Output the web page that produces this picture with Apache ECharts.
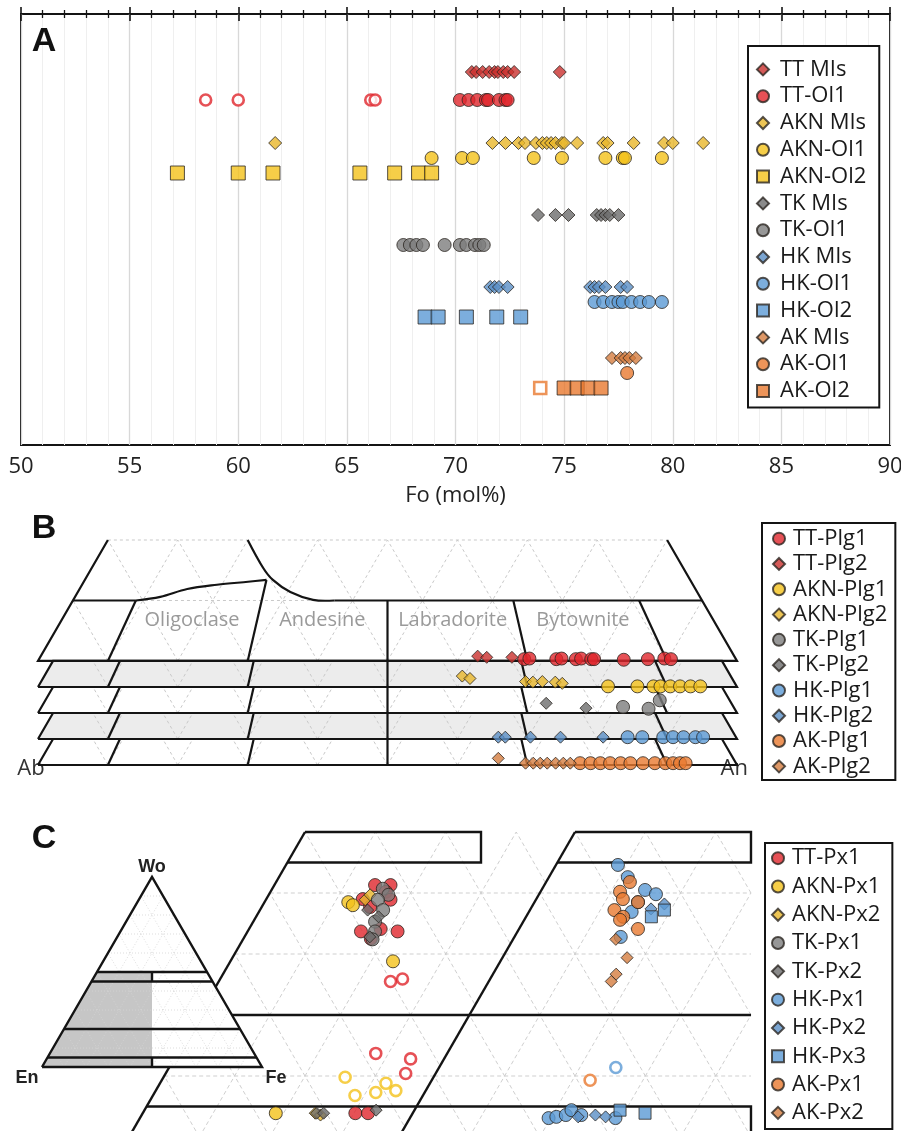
<!DOCTYPE html>
<html>
<head>
<meta charset="utf-8">
<script src="https://cdn.jsdelivr.net/npm/echarts@6/dist/echarts.min.js"></script>
<style>
  html, body { margin: 0; padding: 0; background: #fff; }
  #chart { width: 901px; height: 1131px; }
</style>
</head>
<body>
<div id="chart"></div>
<script>
// ================= Panel A: olivine forsterite content (Fo mol%) =================
const ttMIs    = [70.75, 70.95, 71.25, 71.55, 71.8, 71.95, 72.2, 72.4, 72.7, 74.8];
const ttOl1    = [70.2, 70.6, 71.0, 71.4, 71.5, 72.0, 72.3, 72.4];
const ttOl1Rim = [58.5, 60.0, 66.1, 66.3];
const aknMIs   = [61.7, 71.7, 72.3, 72.9, 73.2, 73.7, 74.0, 74.2, 74.4, 74.6, 74.9, 75.0, 75.6, 76.8, 77.0, 78.2, 79.6, 80.0, 81.4];
const aknOl1   = [68.9, 70.3, 70.8, 73.6, 74.9, 76.9, 77.7, 77.8, 79.5];
const aknOl2   = [57.2, 60.0, 61.6, 65.6, 67.2, 68.3, 68.9];
const tkMIs    = [73.8, 74.6, 75.2, 76.5, 76.7, 76.9, 77.1, 77.5];
const tkOl1    = [67.6, 67.9, 68.2, 68.5, 69.5, 70.2, 70.5, 70.9, 71.1, 71.3];
const hkMIs    = [71.6, 71.8, 72.0, 72.4, 76.2, 76.4, 76.6, 76.9, 77.6, 77.9];
const hkOl1    = [76.4, 76.8, 77.2, 77.5, 77.7, 78.1, 78.5, 78.9, 79.5];
const hkOl2    = [68.6, 69.2, 70.5, 71.9, 73.0];
const akMIs    = [77.2, 77.6, 77.8, 78.0, 78.3];
const akOl1    = [77.9];
const akOl2    = [75.0, 75.6, 76.1, 76.7];
const akOl2Rim = [73.9];

// ================= Panel B: plagioclase [An %, Or %] =================
const ttPlg1  = [[69.4,0.3],[70.1,0.4],[74.0,0.3],[74.7,0.4],[76.8,0.3],[77.5,0.4],[79.0,0.3],[79.4,0.3],[83.7,0.2],[87.1,0.3],[89.4,0.4],[90.4,0.3]];
const ttPlg2  = [[62.5,0.8],[63.9,0.6],[67.5,0.6]];
const aknPlg1 = [[81.5,0.1],[85.7,0.1],[88.0,0.1],[89.0,0.1],[90.4,0.1],[91.8,0.1],[93.3,0.1],[94.7,0.1]];
const aknPlg2 = [[59.8,1.8],[61.1,1.4],[69.3,0.9],[70.4,0.8],[71.7,0.9],[73.6,0.8],[74.7,0.6]];
const tkPlg1  = [[83.2,1.0],[87.0,0.7],[87.9,2.1]];
const tkPlg2  = [[71.9,1.6],[78.0,0.8]];
const hkPlg1  = [[84.2,0.3],[86.3,0.3],[89.3,0.3],[90.7,0.3],[92.2,0.3],[93.9,0.3],[95.0,0.3]];
const hkPlg2  = [[65.7,0.3],[66.7,0.3],[70.3,0.3],[74.6,0.3],[80.7,0.3]];
const akPlg1  = [[77.4,0.3],[78.9,0.3],[80.3,0.3],[81.7,0.3],[83.2,0.3],[84.6,0.3],[86.4,0.3],[88.1,0.3],[89.6,0.3],[90.7,0.3],[91.7,0.3],[92.5,0.3]];
const akPlg2  = [[65.3,1.1],[69.6,0.3],[70.7,0.3],[71.7,0.3],[72.7,0.3],[73.9,0.3],[75.0,0.3],[76.0,0.3]];

// ================= Panel C: pyroxene [Wo %, Fs %] =================
const ttPx1     = [[41.3,14.3],[41.3,16.5],[40.2,16.4],[39.0,13.7],[38.9,17.7],[37.7,15.4],[33.7,16.1],[34.1,18.7],[33.7,21.3],[32.5,18.1],[3.9,30.2],[3.9,32.0]];
const ttPx1Rim  = [[25.5,24.4],[25.9,25.9],[13.7,28.2],[12.8,33.6],[10.4,34.1]];
const aknPx1    = [[38.5,11.9],[38.0,12.8],[28.8,23.1],[3.9,18.9]];
const aknPx1Rim = [[9.8,25.8],[6.8,28.7],[7.3,31.4],[8.8,32.1],[7.6,34.1]];
const aknPx2    = [[38.9,14.1],[39.7,14.4],[3.9,24.5],[3.6,25.4]];
const tkPx1     = [[40.7,15.7],[39.7,17.0],[38.9,15.9],[37.2,17.5],[35.3,17.3],[33.7,18.1],[32.4,18.4]];
const tkPx2     = [[37.2,15.3],[36.1,17.4],[32.8,17.8],[3.9,24.7],[3.9,25.7],[4.4,32.9]];
const hkPx1     = [[44.6,8.8],[42.6,11.2],[40.5,14.7],[39.8,16.6],[38.5,14.7],[36.9,14.6],[32.8,15.1],[3.1,19.7],[3.3,20.7],[3.6,21.9],[4.4,22.3],[3.6,24.1],[3.1,29.2]];
const hkPx1Rim  = [[11.4,25.1]];
const hkPx2     = [[37.4,17.1],[38.2,18.6],[3.3,23.8],[3.6,26.1],[3.3,27.7]];
const hkPx3     = [[37.2,19.1],[36.1,17.8],[4.4,29.2],[3.9,33.0]];
const akPx1     = [[41.8,11.9],[40.2,11.3],[39.0,12.3],[38.5,14.7],[37.2,12.0],[36.1,13.8],[35.6,13.6],[34.1,16.9]];
const akPx1Rim  = [[9.3,22.5]];
const akPx2     = [[32.4,14.6],[29.4,17.7],[26.7,17.5],[25.5,17.4]];

// ---- classification boundaries (An ratio / Wo levels) and field names ----
const plagFieldRatios = [0.1, 0.3, 0.5, 0.7, 0.9];
const plagFieldNames  = ['Oligoclase', 'Andesine', 'Labradorite', 'Bytownite'];
const plagNameRatios  = [0.2, 0.4, 0.6, 0.8];
const solvusLow  = [[9.0,10],[12.2,10.6],[15.4,11.9],[19.3,12.6],[23.5,13.1],[26.0,13.4]];
const solvusHigh = [[20.0,20],[24.4,15.5],[26.9,13.4],[30.4,11.4],[34.3,10.1],[37.4,10]];
const pxWoLevels = [50, 45, 20, 5];

// ---- layout constants ----
const rowLevels = [58, 86, 129, 144, 159, 201, 231, 273, 288, 303, 344, 359, 374];
const STRIP = 4.3;          // height of each plagioclase band (Or %)
const COPY_SHIFT = 38.35;   // horizontal shift of the second pyroxene panel

const SANS   = "'Open Sans', 'Noto Sans', 'DejaVu Sans', sans-serif";
const NARROW = "'Liberation Sans Narrow', 'Open Sans', sans-serif";
const ARIAL  = "'Liberation Sans', Arial, sans-serif";
const INK = '#141414', EDGE = '#2a2520', GRIDC = '#c9c9c9', SHADE = '#ececec';
const C = {
  red: '#e0262c', redDk: '#c9312e',
  yel: '#f4c21a', yelDk: '#e9b72a',
  gry: '#7d7d7d', gryDk: '#6d6d6d',
  blu: '#5b9ad5', bluDk: '#5a8fc6',
  org: '#e9792f', orgDk: '#d57d40'
};

const olivineSets = [
  ['TT MIs', ttMIs, [], 'diamond', C.redDk],
  ['TT-Ol1', ttOl1, ttOl1Rim, 'circle', C.red],
  ['AKN MIs', aknMIs, [], 'diamond', C.yelDk],
  ['AKN-Ol1', aknOl1, [], 'circle', C.yel],
  ['AKN-Ol2', aknOl2, [], 'rect', C.yel],
  ['TK MIs', tkMIs, [], 'diamond', C.gryDk],
  ['TK-Ol1', tkOl1, [], 'circle', C.gry],
  ['HK MIs', hkMIs, [], 'diamond', C.bluDk],
  ['HK-Ol1', hkOl1, [], 'circle', C.blu],
  ['HK-Ol2', hkOl2, [], 'rect', C.blu],
  ['AK MIs', akMIs, [], 'diamond', C.orgDk],
  ['AK-Ol1', akOl1, [], 'circle', C.org],
  ['AK-Ol2', akOl2, akOl2Rim, 'rect', C.org]
];
const plagSets = [
  ['TT-Plg1', ttPlg1, 'circle', C.red, 4],
  ['TT-Plg2', ttPlg2, 'diamond', C.redDk, 4],
  ['AKN-Plg1', aknPlg1, 'circle', C.yel, 3],
  ['AKN-Plg2', aknPlg2, 'diamond', C.yelDk, 3],
  ['TK-Plg1', tkPlg1, 'circle', C.gry, 2],
  ['TK-Plg2', tkPlg2, 'diamond', C.gryDk, 2],
  ['HK-Plg1', hkPlg1, 'circle', C.blu, 1],
  ['HK-Plg2', hkPlg2, 'diamond', C.bluDk, 1],
  ['AK-Plg1', akPlg1, 'circle', C.org, 0],
  ['AK-Plg2', akPlg2, 'diamond', C.orgDk, 0]
];
const pxSets = [
  ['TT-Px1', ttPx1, ttPx1Rim, 'circle', C.red, 0],
  ['AKN-Px1', aknPx1, aknPx1Rim, 'circle', C.yel, 0],
  ['AKN-Px2', aknPx2, [], 'diamond', C.yelDk, 0],
  ['TK-Px1', tkPx1, [], 'circle', C.gry, 0],
  ['TK-Px2', tkPx2, [], 'diamond', C.gryDk, 0],
  ['HK-Px1', hkPx1, hkPx1Rim, 'circle', C.blu, 1],
  ['HK-Px2', hkPx2, [], 'diamond', C.bluDk, 1],
  ['HK-Px3', hkPx3, [], 'rect', C.blu, 1],
  ['AK-Px1', akPx1, akPx1Rim, 'circle', C.org, 1],
  ['AK-Px2', akPx2, [], 'diamond', C.orgDk, 1]
];

// ---------- ternary helpers ----------
// plagioclase: x = An + Or/2, y = band base + Or
const plgPt = (an, or, base) => [an + or / 2, base + or];
const ratioPt = (r, or, base) => plgPt(r * (100 - or), or, base);
// pyroxene: x = shift + Fs + Wo/2, y = Wo
const pxPt = (p, copy) => [copy * COPY_SHIFT + p[1] + p[0] / 2, p[0]];

function clipSeg(p, q, cons) {
  let t0 = 0, t1 = 1;
  const dx = q[0] - p[0], dy = q[1] - p[1];
  for (const [a, b, c] of cons) {
    const den = a * dx + b * dy, num = c - (a * p[0] + b * p[1]);
    if (Math.abs(den) < 1e-12) { if (num < 0) return null; continue; }
    const t = num / den;
    if (den > 0) t1 = Math.min(t1, t); else t0 = Math.max(t0, t);
    if (t0 > t1 - 1e-6) return null;
  }
  return [[p[0] + t0 * dx, p[1] + t0 * dy], [p[0] + t1 * dx, p[1] + t1 * dy]];
}
// 10 % ternary grid, clipped to height <= hMax and x <= xMax
function ternaryGrid(hMax, xMax, withTop) {
  const segs = [];
  for (let k = 1; k <= 9; k++) {
    const v = k * 10;
    if (v < hMax - 1e-6 || (withTop && Math.abs(v - hMax) < 1e-6)) segs.push([[v / 2, v], [100 - v / 2, v]]);
    segs.push([[v, 0], [v + (100 - v) / 2, 100 - v]]);
    segs.push([[100 - v, 0], [(100 - v) / 2, 100 - v]]);
  }
  const cons = [[0, 1, hMax + 1e-9], [1, 0, xMax]];
  return segs.map(s => clipSeg(s[0], s[1], cons)).filter(Boolean);
}

function makeKit(c, kids) {
  return {
    line(pts, w, extra) {
      kids.push({ type: 'polyline', shape: Object.assign({ points: pts.map(c) }, extra || {}),
        style: { fill: null, stroke: INK, lineWidth: w || 2.2, lineJoin: 'miter' } });
    },
    dash(pts, col, dashArr, w) {
      kids.push({ type: 'polyline', shape: { points: pts.map(c) },
        style: { fill: null, stroke: col || GRIDC, lineWidth: w || 1, lineDash: dashArr || [3, 3] } });
    },
    fill(pts, col) {
      kids.push({ type: 'polygon', shape: { points: pts.map(c) }, style: { fill: col, stroke: null } });
    },
    text(p, str, style) {
      const q = c(p);
      kids.push({ type: 'text', x: q[0], y: q[1],
        style: Object.assign({ text: str, align: 'center', verticalAlign: 'middle' }, style) });
    }
  };
}

function frameSeries(xi, yi, z, build) {
  return {
    type: 'custom', xAxisIndex: xi, yAxisIndex: yi, z: z, silent: true, clip: false,
    data: [[0, 0]],
    renderItem: (params, api) => {
      const kids = [];
      build(makeKit(p => api.coord(p), kids));
      return { type: 'group', children: kids };
    }
  };
}

// ---------- panel B frame: stacked plagioclase bands ----------
const plagFrame = frameSeries(2, 1, 1, k => {
  const topBase = 4 * STRIP;
  for (let i = 0; i < 4; i++) {
    const b = i * STRIP;
    if (i === 1 || i === 3) k.fill([ratioPt(0, 0, b), ratioPt(1, 0, b), ratioPt(1, STRIP, b), ratioPt(0, STRIP, b)], SHADE);
  }
  for (let i = 0; i < 4; i++) {
    const b = i * STRIP;
    ternaryGrid(STRIP, 200, false).forEach(s => k.dash(s.map(p => [p[0], p[1] + b])));
  }
  ternaryGrid(20, 200, true).forEach(s => k.dash(s.map(p => [p[0], p[1] + topBase])));
  plagFieldNames.forEach((n, i) => {
    const or = 6.8;
    k.text(plgPt(plagNameRatios[i] * (100 - or), or, topBase), n,
      { fill: '#9a9a9a', fontSize: 20, fontFamily: SANS });
  });
  k.text([-1.0, -0.6], 'Ab', { fill: '#333', fontSize: 22, fontFamily: SANS });
  k.text([99.6, -0.6], 'An', { fill: '#333', fontSize: 22, fontFamily: SANS });
  // lower bands
  for (let i = 0; i < 4; i++) {
    const b = i * STRIP;
    k.line([ratioPt(0, 0, b), ratioPt(1, 0, b), ratioPt(1, STRIP, b), ratioPt(0, STRIP, b), ratioPt(0, 0, b)]);
    plagFieldRatios.forEach(r => k.line([ratioPt(r, 0, b), ratioPt(r, STRIP, b)]));
  }
  // top band with field boundaries
  const b = topBase;
  k.line([ratioPt(0, 20, b), ratioPt(0, 0, b), ratioPt(1, 0, b), ratioPt(1, 20, b)]);
  k.line([ratioPt(0, 10, b), ratioPt(0.1, 10, b)]);
  k.line(solvusLow.map(p => plgPt(p[0], p[1], b)), 2.2, { smooth: 0.35 });
  k.line(solvusHigh.map(p => plgPt(p[0], p[1], b)), 2.2, { smooth: 0.35 });
  const hEnd = solvusHigh[solvusHigh.length - 1];
  k.line([plgPt(hEnd[0], hEnd[1], b), ratioPt(1, 10, b)]);
  plagFieldRatios.forEach(r => {
    const orTop = r === 0.3 ? solvusLow[solvusLow.length - 1][1] : 10;
    k.line([ratioPt(r, 0, b), ratioPt(r, orTop, b)]);
  });
});

// ---------- panel C frames: two copies of the Mg-rich pyroxene field ----------
function pyxFrame(copy, z) {
  return frameSeries(3, 2, z, k => {
    const d = copy * COPY_SHIFT;
    const P = (w, f) => [d + f + w / 2, w];
    const M = w => [d + 50, w];
    if (copy) k.fill([P(0, 0), M(0), M(50), P(50, 0)], '#fff');
    const xMax = copy ? 50 : COPY_SHIFT + 50;
    ternaryGrid(50, xMax, false).forEach(s => k.dash(s.map(p => [p[0] + d, p[1]]), '#cfcfcf', [4, 3]));
    k.line([P(0, 0), P(50, 0)], 2.4);
    k.line([P(50, 0), M(50), M(45), P(45, 0)], 2.4);
    k.line([P(20, 0), M(20)], 2.4);
    k.line([P(5, 0), M(5), M(0)], 2.4);
    k.line([P(0, 0), M(0)], 2.4);
  });
}

// ---------- panel C inset: Wo–En–Fs triangle ----------
const insetFrame = frameSeries(4, 3, 6, k => {
  k.fill([[0, 0], [100, 0], [50, 100]], '#fff');
  k.fill([[0, 0], [50, 0], [50, 50], [25, 50]], '#c6c6c6');
  ternaryGrid(100, 200, false).forEach(s => k.dash(s, '#d4d4d4', [1, 2], 0.8));
  k.line([[0, 0], [100, 0], [50, 100], [0, 0]], 2.4);
  pxWoLevels.forEach(w => k.line([[w / 2, w], [100 - w / 2, w]], 2.4));
  k.line([[50, 45], [50, 50]], 2.4);
  k.line([[50, 0], [50, 5]], 2.4);
  const lab = { fill: '#222', fontSize: 18, fontWeight: 'bold', fontFamily: ARIAL };
  k.text([50, 105.5], 'Wo', lab);
  k.text([-6.8, -5.8], 'En', lab);
  k.text([106.4, -5.8], 'Fe', lab);
});

// ---------- scatter series ----------
const rimItem = (value, col, size) => ({ value, symbolSize: size,
  itemStyle: { color: '#fff', borderColor: col, borderWidth: 2.6 } });

const olivineSeries = olivineSets.map(([name, vals, rim, sym, col], i) => {
  const y = rowLevels[i];
  return {
    type: 'scatter', name, xAxisIndex: 0, yAxisIndex: 0, z: 3,
    symbol: sym, symbolSize: sym === 'rect' ? 14 : 13,
    itemStyle: { color: col, borderColor: EDGE, borderWidth: 1 },
    data: vals.map(v => [v, y]).concat(rim.map(v => rimItem([v, y], col, sym === 'rect' ? 12 : 11)))
  };
});
const plagSeries = plagSets.map(([name, pts, sym, col, band]) => ({
  type: 'scatter', name, xAxisIndex: 2, yAxisIndex: 1, z: 3,
  symbol: sym, symbolSize: sym === 'circle' ? 13 : 12,
  itemStyle: { color: col, borderColor: EDGE, borderWidth: 1 },
  data: pts.map(p => plgPt(p[0], p[1], band * STRIP))
}));
const pxSeries = pxSets.map(([name, pts, rim, sym, col, copy]) => ({
  type: 'scatter', name, xAxisIndex: 3, yAxisIndex: 2, z: copy ? 5 : 2,
  symbol: sym, symbolSize: sym === 'circle' ? 13 : 12,
  itemStyle: { color: col, borderColor: EDGE, borderWidth: 1 },
  data: pts.map(p => pxPt(p, copy)).concat(rim.map(p => rimItem(pxPt(p, copy), col, 11)))
}));

const tickStyle = { show: true, inside: true, length: 7, lineStyle: { color: INK, width: 1.6 } };
const minorStyle = { show: true, splitNumber: 5, length: 4, lineStyle: { color: INK, width: 1.3 } };
const legendBase = (names, left, top, lh, pad, textShift) => ({
  data: names, orient: 'vertical', left, top, itemWidth: 12, itemHeight: 12, itemGap: 0,
  symbolKeepAspect: true,
  padding: pad, borderColor: INK, borderWidth: 2, backgroundColor: '#fff', selectedMode: false, z: 10,
  textStyle: { fontSize: 22, fontFamily: SANS, color: '#1a1a1a', lineHeight: lh, padding: [0, 0, 0, textShift] }
});
const gridBase = { containLabel: false, outerBoundsMode: 'none' };

const option = {
  animation: false,
  backgroundColor: '#fff',
  textStyle: { fontFamily: SANS },
  grid: [
    Object.assign({ left: 21, top: 14, width: 869, height: 431, show: true, borderColor: INK, borderWidth: 2 }, gridBase),
    Object.assign({ left: 38, top: 540, width: 699, height: 225 }, gridBase),
    Object.assign({ left: 129, top: 832, width: 704, height: 305 }, gridBase),
    Object.assign({ left: 42, top: 877, width: 220, height: 190 }, gridBase)
  ],
  xAxis: [
    { gridIndex: 0, type: 'value', min: 50, max: 90, interval: 5, position: 'bottom',
      axisLine: { show: false }, axisTick: tickStyle, minorTick: minorStyle,
      splitLine: { show: true, lineStyle: { color: '#d8d8d8', width: 1.3 } },
      minorSplitLine: { show: true, lineStyle: { color: '#efefef', width: 1 } },
      axisLabel: { margin: 11, fontSize: 22, color: '#222', fontFamily: NARROW },
      name: 'Fo (mol%)', nameLocation: 'middle', nameGap: 40,
      nameTextStyle: { fontSize: 22, color: '#222', fontFamily: NARROW } },
    { gridIndex: 0, type: 'value', min: 50, max: 90, interval: 5, position: 'top',
      axisLine: { show: false }, axisTick: tickStyle, minorTick: minorStyle,
      splitLine: { show: false }, axisLabel: { show: false } },
    { gridIndex: 1, type: 'value', min: 0, max: 100, show: false },
    { gridIndex: 2, type: 'value', min: 0, max: 100, show: false },
    { gridIndex: 3, type: 'value', min: 0, max: 100, show: false }
  ],
  yAxis: [
    { gridIndex: 0, type: 'value', min: 0, max: 431, inverse: true, show: false },
    { gridIndex: 1, type: 'value', min: 0, max: 37.2, show: false },
    { gridIndex: 2, type: 'value', min: 0, max: 50, show: false },
    { gridIndex: 3, type: 'value', min: 0, max: 100, show: false }
  ],
  legend: [
    legendBase(olivineSets.map(s => s[0]), 748, 46, 26.8, [10, 13, 3, 8], 6),
    legendBase(plagSets.map(s => s[0]), 762, 523, 25.3, [3, 8, 1, 10], 3),
    legendBase(pxSets.map(s => s[0]), 765, 843, 28.3, [1, 12, 2, 6], 3)
  ],
  graphic: { elements: ['A', 'B', 'C'].map((t, i) => ({
    type: 'text', x: 44, y: [42, 529, 839][i], z: 20,
    style: { text: t, fontSize: 34, fontWeight: 'bold', fontFamily: ARIAL, fill: '#111',
      align: 'center', verticalAlign: 'middle' }
  })) },
  series: [plagFrame, pyxFrame(0, 1), pyxFrame(1, 4), insetFrame]
    .concat(olivineSeries, plagSeries, pxSeries)
};

const chart = echarts.init(document.getElementById('chart'), null, { renderer: 'canvas', width: 901, height: 1131 });
chart.setOption(option);
</script>
</body>
</html>
